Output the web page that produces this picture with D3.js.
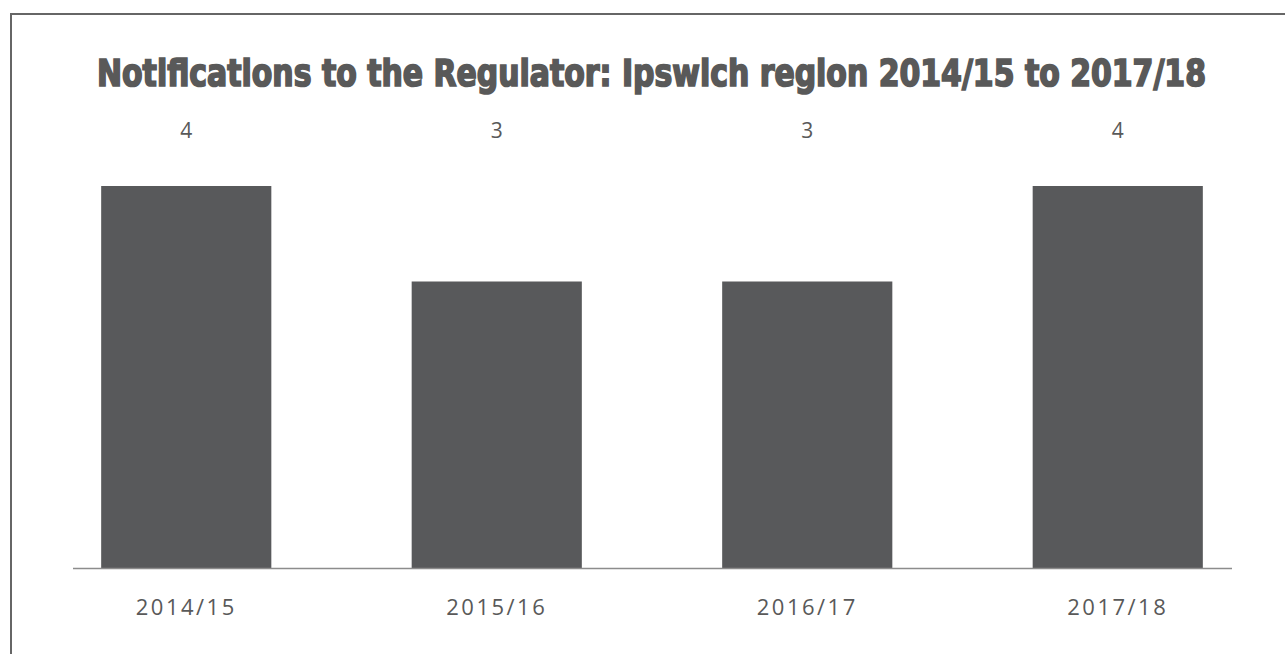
<!DOCTYPE html>
<html>
<head>
<meta charset="utf-8">
<script src="https://cdn.jsdelivr.net/npm/d3@7"></script>
<style>
  body { margin: 0; background: #fff; }
  svg { display: block; }
</style>
</head>
<body>
<div class="chart"></div>
<script>
var years = ["2014/15", "2015/16", "2016/17", "2017/18"];
var notifications = [4, 3, 3, 4];
var titleText = "Notifications to the Regulator: Ipswich region 2014/15 to 2017/18";

var w = 1285;
var h = 654;
var baseY = 568;
var topY = 186;

var svg = d3.select(".chart")
            .append("svg")
            .attr("width", w)
            .attr("height", h);

// frame
svg.append("rect")
   .attr("x", 11)
   .attr("y", 14)
   .attr("width", w + 20)
   .attr("height", h + 20)
   .attr("fill", "none")
   .attr("stroke", "#666666")
   .attr("stroke-width", 2);

var xScale = d3.scaleBand()
               .domain(years)
               .range([31, 1273])
               .paddingInner(0.452)
               .paddingOuter(0.226);
var yScale = d3.scaleLinear()
               .domain([0, 4])
               .range([baseY, topY]);

// title (stretched vertically to mimic the heavy display face)
svg.append("g")
   .attr("transform", "translate(97,86) scale(1,1.3)")
   .append("text")
   .attr("x", 0)
   .attr("y", 0)
   .attr("font-family", "'DejaVu Sans Condensed', 'DejaVu Sans', sans-serif")
   .attr("font-weight", "bold")
   .attr("font-size", 29)
   .attr("fill", "#595959")
   .attr("stroke", "#595959")
   .attr("stroke-width", 1.3)
   .attr("textLength", 1109)
   .attr("lengthAdjust", "spacingAndGlyphs")
   .text(titleText);

// bars
svg.selectAll("rect.bar")
   .data(notifications)
   .enter()
   .append("rect")
   .attr("class", "bar")
   .attr("x", function(d, i){ return xScale(years[i]); })
   .attr("y", function(d){ return yScale(d); })
   .attr("width", xScale.bandwidth())
   .attr("height", function(d){ return baseY - yScale(d); })
   .attr("fill", "#58595b");

// value labels at top
svg.selectAll("text.val")
   .data(notifications)
   .enter()
   .append("text")
   .attr("class", "val")
   .attr("x", function(d, i){ return xScale(years[i]) + xScale.bandwidth() / 2; })
   .attr("y", 138)
   .attr("text-anchor", "middle")
   .attr("font-family", "'Open Sans', sans-serif")
   .attr("font-size", 21)
   .attr("fill", "#595959")
   .text(function(d){ return d; });

// axis
var xAxis = d3.axisBottom(xScale).tickSize(0).tickPadding(31);
var gx = svg.append("g")
   .attr("transform", "translate(0," + baseY + ")")
   .call(xAxis);
gx.select(".domain").remove();
gx.selectAll("text")
  .attr("font-family", "'Open Sans', sans-serif")
  .attr("font-size", 22)
  .attr("letter-spacing", 2.5)
  .attr("fill", "#595959")
  .attr("dy", "0.71em");

svg.append("line")
   .attr("x1", 73)
   .attr("x2", 1232)
   .attr("y1", baseY + 0.5)
   .attr("y2", baseY + 0.5)
   .attr("stroke", "#8c8c8c")
   .attr("stroke-width", 1.5);
</script>
</body>
</html>
